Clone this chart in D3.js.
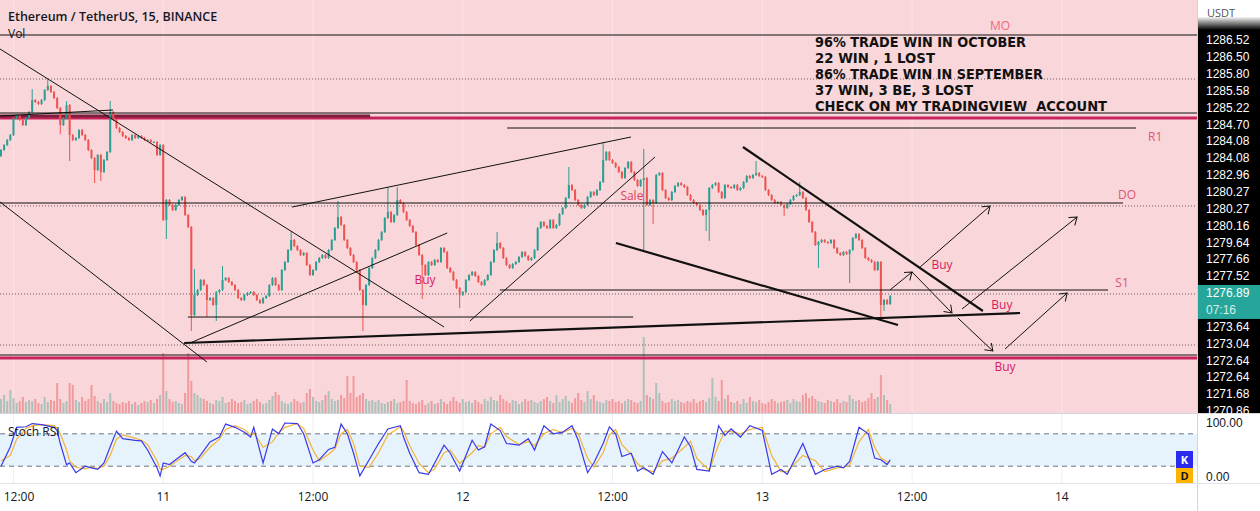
<!DOCTYPE html>
<html>
<head>
<meta charset="utf-8">
<script src="https://cdn.jsdelivr.net/npm/d3@7"></script>
<style>
  html, body { margin: 0; padding: 0; background: #fff; }
  svg { display: block; font-family: "Open Sans", "Noto Sans", sans-serif; }
</style>
</head>
<body>
<div id="chart"></div>
<script>
// ETH/USDT 15 min candles, closes (one per candle)
var firstOpen = 1283.20;
var closes = [
  1283.50,1283.75,1284.00,1284.25,1285.10,1285.25,1285.00,1284.75,1285.10,1285.40,
  1286.00,1285.90,1285.80,1286.00,1286.50,1286.70,1286.40,1286.10,1285.60,1284.75,
  1285.10,1285.75,1284.25,1284.00,1284.10,1284.50,1284.25,1284.00,1283.50,1283.10,
  1282.50,1283.25,1282.40,1283.00,1283.40,1285.40,1285.00,1284.60,1284.40,1284.20,
  1284.10,1284.00,1284.25,1284.10,1284.20,1284.10,1284.00,1284.00,1283.90,1283.90,
  1283.25,1283.75,1280.00,1281.00,1280.75,1280.50,1280.75,1281.00,1281.15,1280.25,
  1279.65,1275.25,1276.25,1276.50,1277.00,1276.75,1276.00,1276.10,1275.75,1276.40,
  1276.50,1277.00,1277.10,1276.90,1276.75,1276.50,1276.10,1276.00,1276.25,1276.35,
  1276.40,1276.25,1276.00,1275.85,1276.10,1276.20,1276.75,1277.10,1276.75,1276.50,
  1277.50,1277.90,1278.50,1279.00,1278.70,1278.50,1278.25,1278.35,1277.75,1277.25,
  1277.50,1277.90,1278.10,1278.25,1278.10,1278.50,1279.00,1279.60,1280.15,1279.75,
  1279.00,1278.60,1278.25,1277.90,1277.50,1276.50,1275.75,1276.75,1277.60,1278.10,
  1278.50,1279.00,1279.40,1280.10,1280.40,1279.90,1280.25,1281.00,1280.85,1280.40,
  1280.00,1279.70,1279.40,1278.75,1278.25,1277.75,1277.25,1277.90,1277.75,1278.00,
  1277.90,1278.60,1278.40,1277.60,1277.40,1277.00,1276.60,1276.25,1276.40,1277.00,
  1277.25,1277.40,1277.20,1276.90,1276.75,1277.00,1277.25,1277.90,1278.50,1278.85,
  1278.60,1278.10,1277.75,1277.60,1277.80,1277.90,1278.15,1278.40,1278.20,1278.00,
  1278.10,1278.50,1279.60,1279.90,1279.70,1279.60,1280.00,1279.60,1279.75,1280.30,
  1280.60,1281.10,1281.75,1281.50,1281.00,1280.75,1280.60,1280.75,1281.15,1281.40,
  1281.25,1281.50,1281.90,1283.00,1283.40,1283.00,1282.85,1282.65,1282.40,1282.10,
  1282.60,1282.90,1282.40,1282.00,1281.70,1282.00,1282.10,1280.75,1281.00,1280.85,
  1282.25,1282.35,1281.50,1281.10,1281.00,1281.40,1281.70,1281.85,1281.75,1281.65,
  1281.25,1281.00,1280.85,1280.75,1280.50,1280.25,1280.50,1281.60,1281.75,1281.85,
  1281.40,1281.10,1281.75,1281.65,1281.60,1281.75,1281.50,1281.60,1281.90,1282.20,
  1282.10,1282.25,1282.35,1282.20,1282.15,1281.50,1281.25,1281.00,1280.85,1280.90,
  1280.75,1280.60,1280.80,1281.00,1281.20,1281.25,1281.40,1281.10,1280.50,1279.90,
  1279.40,1278.75,1278.90,1279.00,1278.90,1278.85,1279.00,1278.60,1278.35,1278.25,
  1278.40,1278.30,1278.50,1279.10,1279.30,1279.00,1278.60,1278.10,1278.00,1277.90,
  1277.50,1277.90,1275.75,1276.00,1275.80,1276.20
];
// long wicks: [candle, high, low]
var wicks = [
  [10,1286.5,null],[15,1287.0,null],[19,null,1284.35],[21,1285.9,null],[22,null,1283.0],
  [30,null,1281.9],[32,null,1282.0],[35,1285.9,null],[53,null,1279.1],[61,null,1274.5],
  [62,1277.5,null],[66,null,1275.2],[69,null,1275.0],[71,1277.65,null],[93,1279.35,null],
  [108,1280.9,null],[116,null,1274.5],[124,1281.6,null],[127,1281.6,null],[135,null,1276.1],
  [147,null,1275.65],[159,1279.35,null],[182,1282.6,null],[193,1283.85,null],[206,1283.5,1278.5],
  [209,null,1279.85],[226,null,1279.5],[227,null,1279.0],[242,1282.9,null],[251,null,1280.25],
  [256,1281.85,null],[262,null,1277.65],[272,null,1276.9],[282,null,1275.15],[283,null,1275.5]
];
var volumes = [
  14,18,12,23,15,10,12,16,11,13, 12,14,10,9,16,11,13,12,30,14,
  10,12,30,28,13,11,16,12,14,28, 17,12,10,14,11,20,12,10,9,11,
  10,12,9,11,8,10,12,11,13,10, 14,18,60,22,14,11,12,10,9,20,
  60,32,20,18,15,14,12,10,9,13, 12,16,10,11,14,12,10,11,13,9,
  10,12,14,11,9,10,13,17,21,18, 12,10,9,11,14,12,10,11,20,24,
  16,12,11,13,18,22,14,12,13,18, 15,37,20,37,16,18,20,14,12,13,
  11,13,10,9,11,12,14,10,11,12, 33,12,10,9,11,13,8,10,12,9,
  10,14,11,9,12,16,12,10,14,11, 12,10,13,11,9,14,12,16,13,12,
  18,14,12,10,13,12,9,11,14,12, 13,11,10,12,14,16,12,10,18,11,
  14,17,12,10,15,20,13,11,22,14, 18,12,11,10,13,12,14,11,12,10,
  12,14,13,11,10,12,76,18,16,14, 30,20,12,10,11,14,12,13,11,10,
  12,11,14,10,12,13,11,15,35,16, 12,33,14,18,11,10,12,9,14,10,
  16,12,11,13,10,9,11,14,12,10, 11,12,13,10,14,12,11,18,20,15,
  17,14,12,11,10,13,12,11,14,10, 12,11,18,14,12,13,11,12,15,20,
  14,16,38,18,13,9
];
// Stoch RSI readings at these candles
var rsiIdx = [0,3,5,8,10,13,17,18,19,21,22,24,27,29,31,33,35,37,39,43,45,47,50,51,52,54,56,59,61,62,
  64,67,70,72,75,78,80,81,84,87,89,91,95,97,100,102,105,107,109,111,113,115,118,121,124,128,129,131,134,137,
  139,142,144,147,151,153,155,157,160,162,166,169,171,174,177,180,183,185,188,190,193,195,197,199,202,204,206,209,212,215,
  219,221,223,227,230,232,234,237,240,244,247,250,252,257,261,264,268,270,272,275,278,280,282,284,285];
var rsiK = [20,56,92,93,99,97,92,86,62,23,26,8,20,17,14,26,56,85,71,68,67,50,17,2,26,23,32,45,29,26,
  41,65,74,98,92,83,74,92,26,89,80,100,99,80,26,32,51,55,98,80,44,2,32,62,89,95,74,44,8,5,
  26,59,44,11,68,50,56,98,86,62,59,71,50,95,80,83,95,68,8,26,62,93,80,38,44,11,17,5,47,26,
  74,56,14,11,95,77,89,74,95,86,5,14,5,62,5,14,20,17,29,92,80,35,32,23,32];
var rsiD = [30,40,70,90,95,97,95,90,80,50,30,18,15,18,16,20,40,70,78,72,68,60,30,15,14,20,28,40,38,30,
  35,55,70,88,95,88,78,82,55,65,82,92,99,90,50,30,42,52,80,88,62,20,18,45,78,93,85,58,25,8,
  15,45,50,25,45,58,55,80,92,75,60,66,58,80,88,82,90,80,35,18,45,78,88,60,42,25,14,10,30,35,
  55,66,35,12,60,85,84,80,88,92,40,10,10,40,30,10,17,18,22,65,88,55,35,28,27];

var timeTicks = [4, 52, 100, 148, 196, 244, 292, 340];
var timeLabels = ["12:00", "11", "12:00", "12", "12:00", "13", "12:00", "14"];
var priceLabels = ["1286.52","1286.50","1285.80","1285.58","1285.22","1284.70","1284.08","1284.08",
  "1282.96","1280.27","1280.27","1280.16","1279.64","1277.66","1277.52","1276.89","07:16",
  "1273.64","1273.04","1272.64","1272.64","1271.68","1270.86"];
var lastPriceRow = 15;

// drawings, in [candle, price] coordinates
var trendLines = [ // i1, p1, i2, p2, width
  [-0.3,1288.55,142.0,1274.65,1],
  [-0.3,1280.9,66.0,1272.9,1],
  [-0.3,1285.2,35.9,1285.5,1.2],
  [93.3,1280.65,201.9,1284.15,1],
  [60.6,1273.85,143.0,1279.35,1],
  [58.7,1273.85,326.6,1275.35,2.2],
  [150.3,1274.95,209.6,1283.15,1],
  [197.1,1278.85,287.5,1274.75,2.2],
  [237.8,1283.65,314.7,1275.45,2.2],
  [59.9,1275.15,202.6,1275.15,1],
  [159.9,1276.5,354.8,1276.5,1],
  [-1,1280.85,359.6,1280.85,1],
  [162.2,1284.6,363.8,1284.6,1],
  [-1,1285.35,384,1285.35,1],
  [-1,1289.25,384,1289.25,1],
  [-1,1273.25,384,1273.25,1]
];
var dottedLevels = [1287.05, 1280.7, 1276.3, 1273.75];
var crimsonLevels = [[-1,1285.1,384,"#c8245c",3], [-0.3,1285.2,118.3,"#7d1e3c",3], [-1,1273.1,384,"#c8245c",3]];
var arrows = [
  [284.9,1276.5,292.0,1277.4],
  [292.0,1277.4,304.8,1275.35],
  [294.6,1277.65,317.0,1280.7],
  [308.0,1275.55,344.9,1280.15],
  [306.7,1275.1,317.9,1273.45],
  [321.8,1273.55,341.7,1276.35]
];
var tags = [
  ["Buy",301.6,1277.75,"#d81b60"],["Buy",320.8,1275.75,"#d81b60"],["Buy",321.8,1272.65,"#d81b60"],
  ["Buy",135.9,1277.0,"#d81b60"],["Sale",202.2,1281.2,"#e0415a"],
  ["R1",369.9,1284.15,"#e05575"],["DO",360.9,1281.25,"#e05575"],["S1",359.3,1276.85,"#e05575"],["MO",320.2,1289.72,"#ee6a80"]
];
var noteLines = ["96% TRADE WIN IN OCTOBER", "22 WIN , 1 LOST", "86% TRADE WIN IN SEPTEMBER",
  "37 WIN, 3 BE, 3 LOST", "CHECK ON MY TRADINGVIEW\u00a0 ACCOUNT"];
var noteWidths = [211, 120, 228, 158, 292];

var width = 1260, height = 511;
var plotRight = 1197, mainBottom = 413, rsiTop = 414, rsiBottom = 483;
var upColor = "#2b9f91", downColor = "#ef5350";

var svg = d3.select("#chart").append("svg")
    .attr("width", width)
    .attr("height", height);

var x = d3.scaleLinear().domain([0, 383]).range([1, 1196]);
var y = d3.scaleLinear().domain([1291, 1270.35]).range([0, mainBottom]);
var yVol = d3.scaleLinear().domain([0, 80]).range([mainBottom, mainBottom - 80]);
var yRsi = d3.scaleLinear().domain([0, 100]).range([477, 423]);
var yRow = d3.scalePoint().domain(d3.range(priceLabels.length)).range([40, 411]);

var defs = svg.append("defs");
defs.append("clipPath").attr("id", "clipMain").append("rect")
    .attr("width", plotRight).attr("height", mainBottom);
defs.append("clipPath").attr("id", "clipRsi").append("rect")
    .attr("y", rsiTop).attr("width", plotRight).attr("height", rsiBottom - rsiTop);
defs.append("marker").attr("id", "arr")
    .attr("markerUnits", "userSpaceOnUse").attr("markerWidth", 12).attr("markerHeight", 12)
    .attr("refX", 8).attr("refY", 5).attr("orient", "auto")
  .append("path").attr("d", "M1,0 L8,5 L1,10").attr("fill", "none").attr("stroke", "#111").attr("stroke-width", 1);
var grad = defs.append("linearGradient").attr("id", "axisFade").attr("x1", 0).attr("x2", 0).attr("y1", 0).attr("y2", 1);
grad.append("stop").attr("offset", "0").attr("stop-color", "#fff");
grad.append("stop").attr("offset", "0.55").attr("stop-color", "#fff");
grad.append("stop").attr("offset", "1").attr("stop-color", "#000");

// backgrounds
svg.append("rect").attr("width", width).attr("height", height).attr("fill", "#fff");
svg.append("rect").attr("width", plotRight).attr("height", mainBottom).attr("fill", "#f9d6d9");
svg.append("rect").attr("x", 0).attr("y", yRsi(80)).attr("width", plotRight)
    .attr("height", yRsi(20) - yRsi(80)).attr("fill", "#e6f2fc");

// grid
svg.append("g").selectAll("line").data(timeTicks).enter().append("line")
    .attr("x1", d => x(d)).attr("x2", d => x(d)).attr("y1", 0).attr("y2", mainBottom)
    .attr("stroke", "#fff").attr("stroke-opacity", 0.35);
svg.append("g").selectAll("line").data(timeTicks).enter().append("line")
    .attr("x1", d => x(d)).attr("x2", d => x(d)).attr("y1", rsiTop).attr("y2", rsiBottom)
    .attr("stroke", "#eef0f4");

var candles = closes.map(function(c, i) {
    var o = i === 0 ? firstOpen : closes[i - 1];
    return { i: i, o: o, c: c, h: Math.max(o, c), l: Math.min(o, c) };
});
wicks.forEach(function(w) {
    if (w[1] != null) candles[w[0]].h = w[1];
    if (w[2] != null) candles[w[0]].l = w[2];
});

var main = svg.append("g").attr("clip-path", "url(#clipMain)");

// volume
main.append("g").selectAll("rect").data(volumes).enter().append("rect")
    .attr("x", (d, i) => x(i) - 1).attr("width", 2)
    .attr("y", d => yVol(d)).attr("height", d => mainBottom - yVol(d))
    .attr("fill", (d, i) => candles[i].c >= candles[i].o ? "#9fbdb6" : "#f08f92")
    .attr("opacity", 0.85);

// dotted levels
main.append("g").selectAll("line").data(dottedLevels).enter().append("line")
    .attr("x1", 0).attr("x2", plotRight).attr("y1", d => y(d)).attr("y2", d => y(d))
    .attr("stroke", "#6b5a5c").attr("stroke-width", 1).attr("stroke-dasharray", "1,2");

// crimson levels
main.append("g").selectAll("line").data(crimsonLevels).enter().append("line")
    .attr("x1", d => x(d[0])).attr("x2", d => x(d[2])).attr("y1", d => y(d[1])).attr("y2", d => y(d[1]))
    .attr("stroke", d => d[3]).attr("stroke-width", d => d[4]);

// candles
var cg = main.append("g").selectAll("g").data(candles).enter().append("g");
cg.append("line")
    .attr("x1", d => x(d.i)).attr("x2", d => x(d.i))
    .attr("y1", d => y(d.h) - 1).attr("y2", d => y(d.l) + 1)
    .attr("stroke", d => d.c >= d.o ? upColor : downColor).attr("stroke-width", 1);
cg.append("rect")
    .attr("x", d => x(d.i) - 1).attr("width", 2)
    .attr("y", d => y(Math.max(d.o, d.c)))
    .attr("height", d => Math.max(1, Math.abs(y(d.o) - y(d.c))))
    .attr("fill", d => d.c >= d.o ? upColor : downColor);

// trend lines
main.append("g").selectAll("line").data(trendLines).enter().append("line")
    .attr("x1", d => x(d[0])).attr("y1", d => y(d[1]))
    .attr("x2", d => x(d[2])).attr("y2", d => y(d[3]))
    .attr("stroke", "#111").attr("stroke-width", d => d[4]);

// arrows
main.append("g").selectAll("line").data(arrows).enter().append("line")
    .attr("x1", d => x(d[0])).attr("y1", d => y(d[1]))
    .attr("x2", d => x(d[2])).attr("y2", d => y(d[3]))
    .attr("stroke", "#111").attr("stroke-width", 1).attr("marker-end", "url(#arr)");

// tags
main.append("g").selectAll("text").data(tags).enter().append("text")
    .attr("x", d => x(d[1])).attr("y", d => y(d[2]))
    .attr("dy", "0.35em").attr("text-anchor", "middle")
    .attr("fill", d => d[3]).attr("font-size", 12)
    .text(d => d[0]);

// note block
svg.append("g").selectAll("text").data(noteLines).enter().append("text")
    .attr("x", 815).attr("y", (d, i) => 47 + i * 16)
    .attr("font-family", "DejaVu Sans, sans-serif")
    .attr("font-size", 13.5).attr("font-weight", 700).attr("fill", "#111")
    .attr("textLength", (d, i) => noteWidths[i]).attr("lengthAdjust", "spacingAndGlyphs")
    .text(d => d);

// titles
svg.append("text").attr("x", 8).attr("y", 21).attr("font-size", 12.5).attr("font-weight", 600)
    .attr("fill", "#131722").text("Ethereum / TetherUS, 15, BINANCE");
svg.append("text").attr("x", 8).attr("y", 38).attr("font-size", 12)
    .attr("fill", "#131722").text("Vol");

// stoch rsi pane
svg.append("line").attr("x1", 0).attr("x2", width).attr("y1", 413.5).attr("y2", 413.5).attr("stroke", "#d1d4dc");
svg.append("g").selectAll("line").data([80, 20]).enter().append("line")
    .attr("x1", 0).attr("x2", plotRight).attr("y1", d => yRsi(d)).attr("y2", d => yRsi(d))
    .attr("stroke", "#6f7480").attr("stroke-dasharray", "5,4");
var rsiG = svg.append("g").attr("clip-path", "url(#clipRsi)");
var lineK = d3.line().x((d, i) => x(rsiIdx[i])).y(d => yRsi(d));
rsiG.append("path").datum(rsiD).attr("d", lineK).attr("fill", "none")
    .attr("stroke", "#f5b335").attr("stroke-width", 1.2);
rsiG.append("path").datum(rsiK).attr("d", lineK).attr("fill", "none")
    .attr("stroke", "#3a3ae8").attr("stroke-width", 1.2);
svg.append("text").attr("x", 8).attr("y", 436).attr("font-size", 12)
    .attr("fill", "#131722").text("Stoch RSI");

// K / D tags
svg.append("rect").attr("x", 1176).attr("y", 451).attr("width", 17).attr("height", 17).attr("fill", "#2b2bf0");
svg.append("text").attr("x", 1184.5).attr("y", 464).attr("text-anchor", "middle").attr("font-size", 11)
    .attr("font-weight", 700).attr("fill", "#fff").text("K");
svg.append("rect").attr("x", 1176).attr("y", 468).attr("width", 17).attr("height", 15).attr("fill", "#ffb300");
svg.append("text").attr("x", 1184.5).attr("y", 480).attr("text-anchor", "middle").attr("font-size", 11)
    .attr("font-weight", 700).attr("fill", "#131722").text("D");

// price axis
svg.append("rect").attr("x", plotRight).attr("y", 0).attr("width", width - plotRight).attr("height", 30)
    .attr("fill", "url(#axisFade)");
svg.append("rect").attr("x", plotRight).attr("y", 30).attr("width", width - plotRight).attr("height", mainBottom - 30)
    .attr("fill", "#000");
svg.append("text").attr("x", 1207).attr("y", 17).attr("font-size", 11).attr("fill", "#50535e").text("USDT");
svg.append("rect").attr("x", plotRight + 1).attr("y", yRow(lastPriceRow) - 8).attr("width", width - plotRight)
    .attr("height", 34).attr("fill", "#26a69a");
svg.append("g").selectAll("text").data(priceLabels).enter().append("text")
    .attr("x", 1206).attr("y", (d, i) => yRow(i)).attr("dy", "0.35em")
    .attr("font-size", 12).attr("font-family", "Liberation Sans, Arial, sans-serif")
    .attr("fill", (d, i) => (i === lastPriceRow + 1) ? "#d4f0ec" : "#fff")
    .text(d => d);
svg.append("line").attr("x1", plotRight + 0.5).attr("x2", plotRight + 0.5).attr("y1", 0).attr("y2", height)
    .attr("stroke", "#d1d4dc");
svg.append("g").selectAll("text").data([100, 0]).enter().append("text")
    .attr("x", 1206).attr("y", d => yRsi(d)).attr("dy", "0.35em")
    .attr("font-size", 12).attr("font-family", "Liberation Sans, Arial, sans-serif")
    .attr("fill", "#131722").text(d => d.toFixed(2));

// time axis
svg.append("line").attr("x1", 0).attr("x2", width).attr("y1", 483.5).attr("y2", 483.5).attr("stroke", "#e0e3eb");
svg.append("g").selectAll("text").data(timeTicks).enter().append("text")
    .attr("x", d => Math.max(x(d), 19)).attr("y", 501).attr("text-anchor", "middle")
    .attr("font-size", 12).attr("fill", "#131722")
    .text((d, i) => timeLabels[i]);
</script>
</body>
</html>
